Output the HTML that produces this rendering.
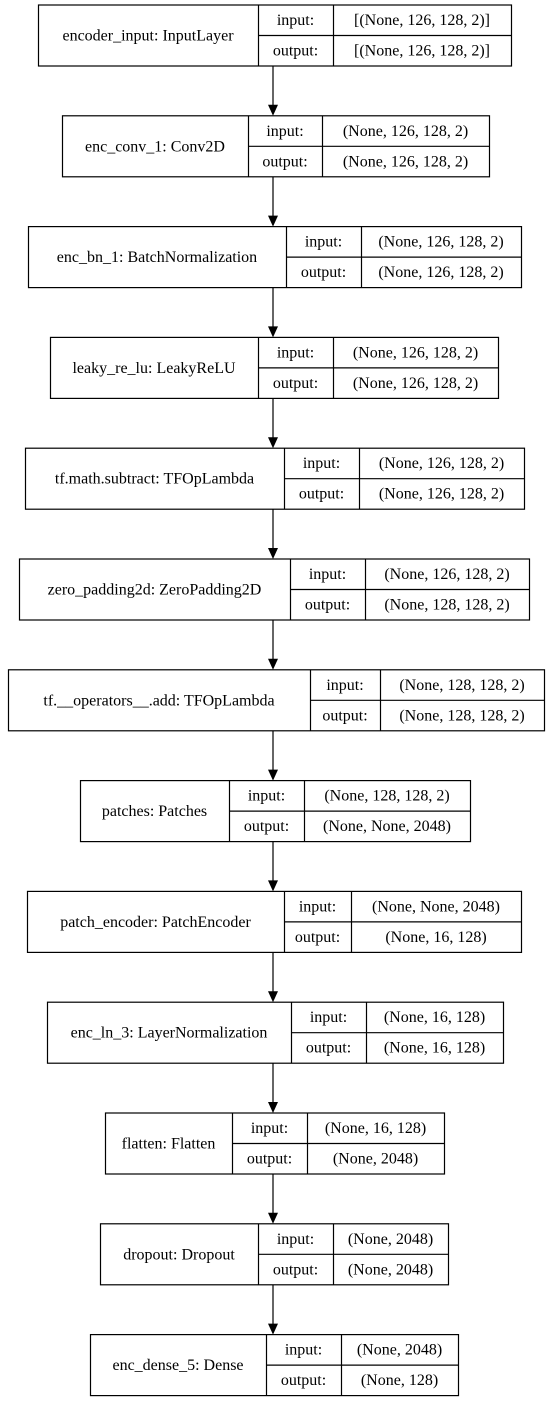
<!DOCTYPE html>
<html><head><meta charset="utf-8"><style>
html,body{margin:0;padding:0;background:#fff;}
svg{display:block;}
svg text{font-family:"Liberation Serif","Times New Roman",serif;font-size:16px;fill:#000;}
</style></head><body>
<svg width="551" height="1401" viewBox="0 0 551 1401" xmlns="http://www.w3.org/2000/svg">
<g id="g" stroke="#000" stroke-width="1.2" fill="none"></g>
<g id="t" font-family="Liberation Serif, serif" font-size="16"></g>
</svg>
<script>
var B=[
["encoder_input: InputLayer","[(None, 126, 128, 2)]","[(None, 126, 128, 2)]",38,511,258,333],
["enc_conv_1: Conv2D","(None, 126, 128, 2)","(None, 126, 128, 2)",62,489,248,322],
["enc_bn_1: BatchNormalization","(None, 126, 128, 2)","(None, 126, 128, 2)",28,521,286,361],
["leaky_re_lu: LeakyReLU","(None, 126, 128, 2)","(None, 126, 128, 2)",50,498,258,333],
["tf.math.subtract: TFOpLambda","(None, 126, 128, 2)","(None, 126, 128, 2)",25,524,284,359],
["zero_padding2d: ZeroPadding2D","(None, 126, 128, 2)","(None, 128, 128, 2)",19,529,290,365],
["tf.__operators__.add: TFOpLambda","(None, 128, 128, 2)","(None, 128, 128, 2)",8,544,310,380],
["patches: Patches","(None, 128, 128, 2)","(None, None, 2048)",80,470,229,304],
["patch_encoder: PatchEncoder","(None, None, 2048)","(None, 16, 128)",27,521,284,351],
["enc_ln_3: LayerNormalization","(None, 16, 128)","(None, 16, 128)",47,503,291,366],
["flatten: Flatten","(None, 16, 128)","(None, 2048)",105,444,232,307],
["dropout: Dropout","(None, 2048)","(None, 2048)",100,448,258,333],
["enc_dense_5: Dense","(None, 2048)","(None, 128)",90,458,266,341]];
var ns="http://www.w3.org/2000/svg",g=document.getElementById('g'),t=document.getElementById('t');
function el(n,a,p){var e=document.createElementNS(ns,n);for(var k in a)e.setAttribute(k,a[k]);p.appendChild(e);return e;}
function tx(s,x,y){var e=el('text',{x:x,y:y,'text-anchor':'middle'},t);e.textContent=s;}
B.forEach(function(b,i){
 var y=5+i*110.8,h=61,x1=b[3],x2=b[4],d1=b[5],d2=b[6],m=y+h/2;
 el('rect',{x:x1+.5,y:y,width:x2-x1,height:h},g);
 el('line',{x1:d1+.5,y1:y,x2:d1+.5,y2:y+h},g);
 el('line',{x1:d2+.5,y1:y,x2:d2+.5,y2:y+h},g);
 el('line',{x1:d1,y1:m,x2:x2,y2:m},g);
 tx(b[0],(x1+d1)/2,m+5);
 tx('input:',(d1+d2)/2,y+20);tx('output:',(d1+d2)/2,m+20);
 tx(b[1],(d2+x2)/2,y+20);tx(b[2],(d2+x2)/2,m+20);
 if(i<B.length-1){var ny=5+(i+1)*110.8,ax=273;
  el('line',{x1:ax,y1:y+h,x2:ax,y2:ny-10},g);
  el('path',{d:'M'+(ax-5)+','+(ny-11)+' L'+(ax+5)+','+(ny-11)+' L'+ax+','+ny+' z',fill:'#000',stroke:'none'},g);}
});
</script>
</body></html>
